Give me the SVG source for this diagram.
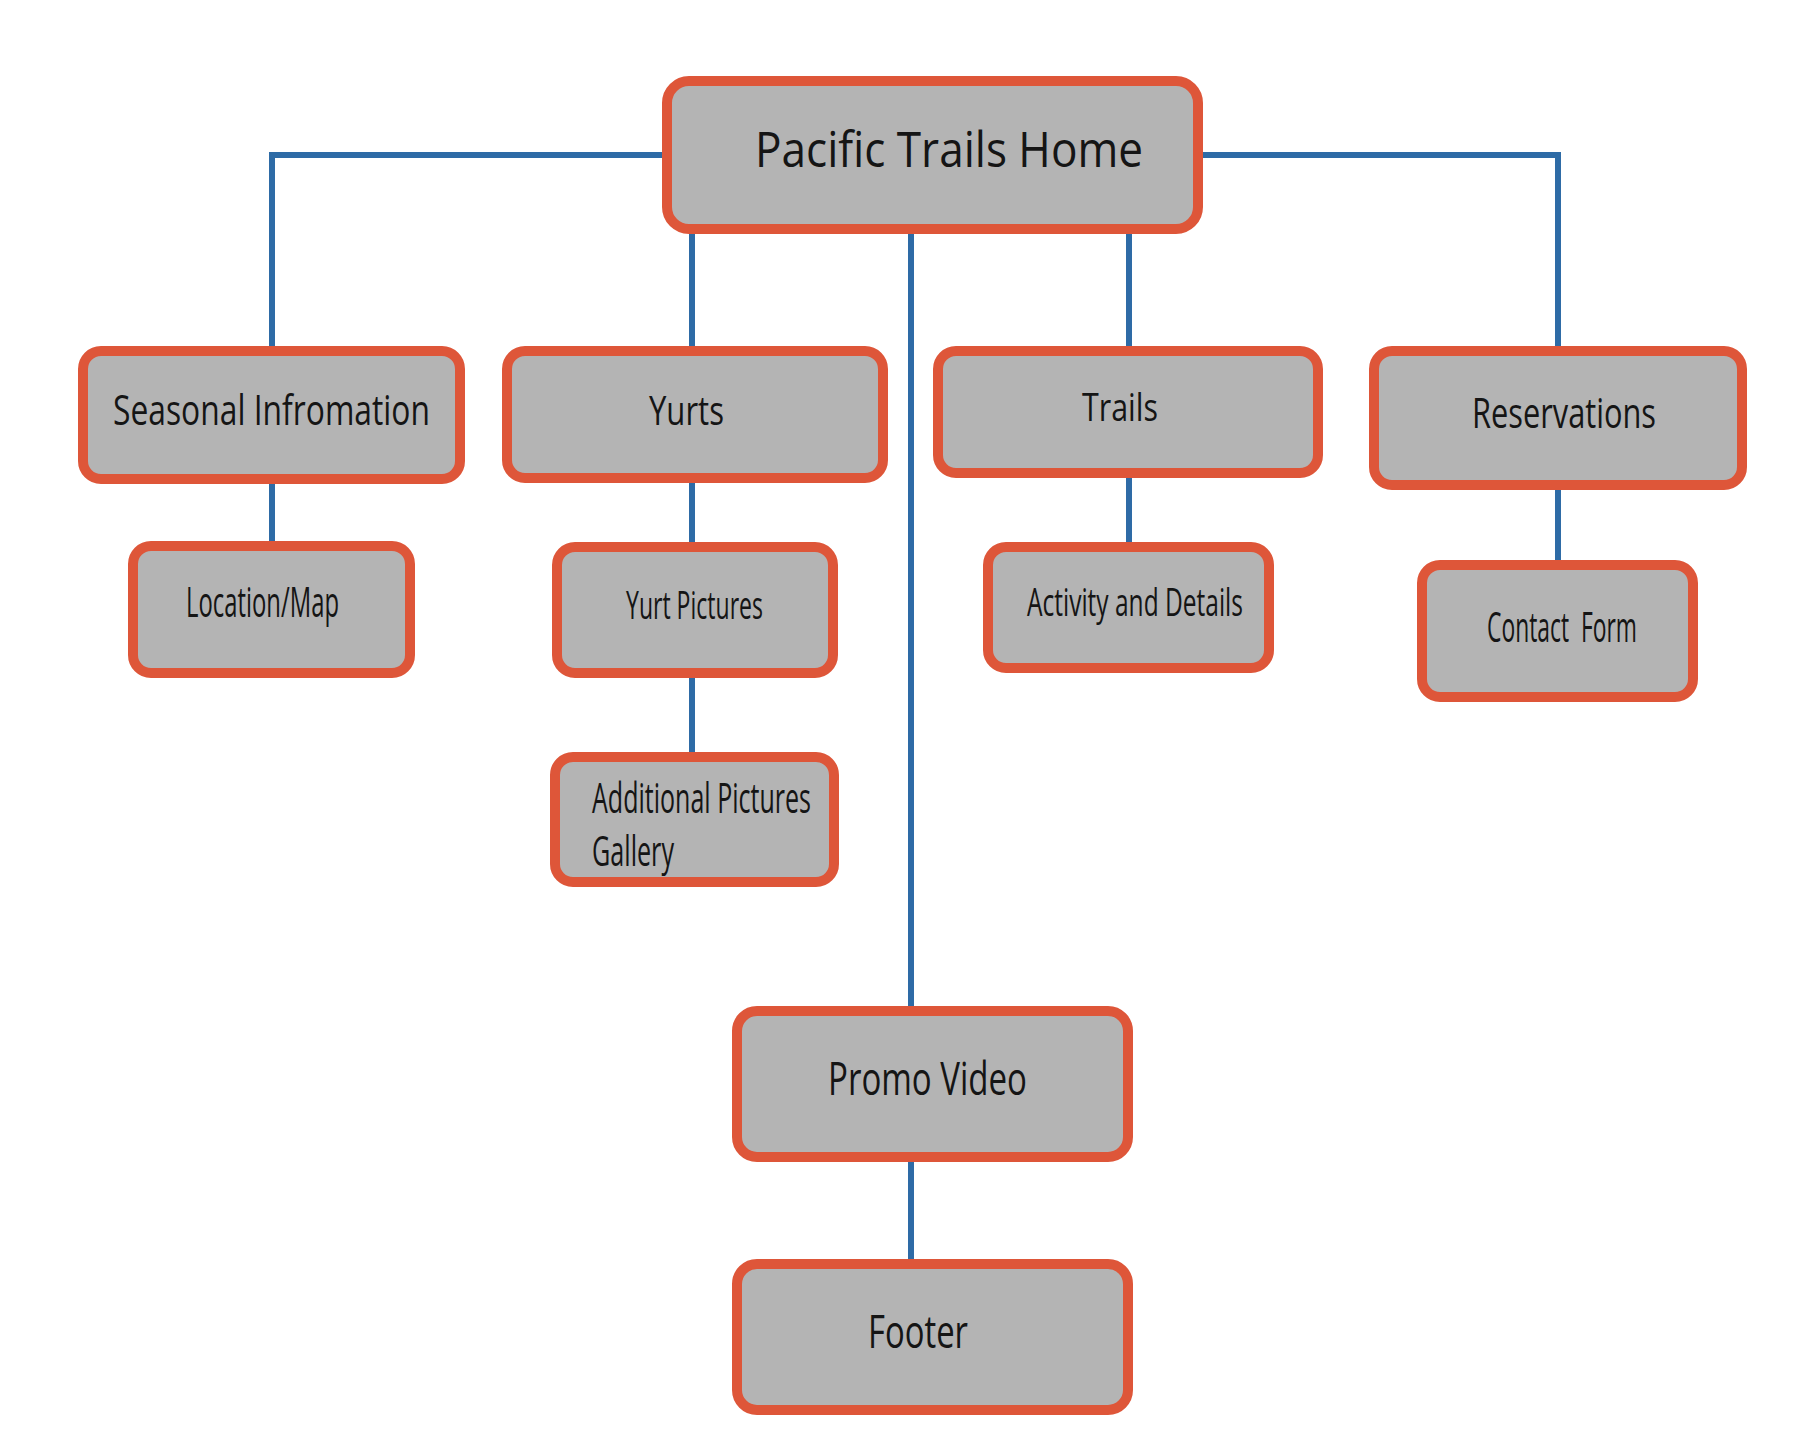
<svg xmlns="http://www.w3.org/2000/svg" width="1818" height="1440" viewBox="0 0 1818 1440">
<style>
.box{fill:#b4b4b4;stroke:#de5639;stroke-width:10}
.lbl{font-family:"Open Sans","Noto Sans","Liberation Sans",sans-serif;fill:#151515;font-weight:500}
.con{fill:none;stroke:#2e6ba6;stroke-width:6;stroke-linejoin:miter;stroke-linecap:butt}
</style>
<rect width="1818" height="1440" fill="#ffffff"/>
<g id="connectors">
<path class="con" d="M667,155 H272 V351"/>
<path class="con" d="M1198,155 H1558 V351"/>
<path class="con" d="M692,229 V351"/>
<path class="con" d="M911,229 V1011"/>
<path class="con" d="M1129,229 V351"/>
<path class="con" d="M272,479 V546"/>
<path class="con" d="M692,478 V547"/>
<path class="con" d="M692,673 V757"/>
<path class="con" d="M1129,473 V547"/>
<path class="con" d="M1558,485 V565"/>
<path class="con" d="M911,1157 V1264"/>
</g>
<g id="home">
<rect class="box" x="667" y="81" width="531" height="148" rx="22"/>
<text class="lbl" x="755" y="167" font-size="49" textLength="388" lengthAdjust="spacingAndGlyphs">Pacific Trails Home</text>
</g>
<g id="seasonal">
<rect class="box" x="83" y="351" width="377" height="128" rx="18"/>
<text class="lbl" x="113" y="425" font-size="42" textLength="317" lengthAdjust="spacingAndGlyphs">Seasonal Infromation</text>
</g>
<g id="location">
<rect class="box" x="133" y="546" width="277" height="127" rx="18"/>
<text class="lbl" x="186" y="617" font-size="42" textLength="153" lengthAdjust="spacingAndGlyphs">Location/Map</text>
</g>
<g id="yurts">
<rect class="box" x="507" y="351" width="376" height="127" rx="18"/>
<text class="lbl" x="649" y="425" font-size="41" textLength="75" lengthAdjust="spacingAndGlyphs">Yurts</text>
</g>
<g id="yurt-pictures">
<rect class="box" x="557" y="547" width="276" height="126" rx="18"/>
<text class="lbl" x="626" y="619" font-size="39" textLength="137" lengthAdjust="spacingAndGlyphs">Yurt Pictures</text>
</g>
<g id="additional">
<rect class="box" x="555" y="757" width="279" height="125" rx="18"/>
<text class="lbl" x="592" y="813" font-size="42" textLength="219" lengthAdjust="spacingAndGlyphs">Additional Pictures</text>
<text class="lbl" x="592" y="866" font-size="42" textLength="82" lengthAdjust="spacingAndGlyphs">Gallery</text>
</g>
<g id="trails">
<rect class="box" x="938" y="351" width="380" height="122" rx="18"/>
<text class="lbl" x="1082" y="421" font-size="39" textLength="76" lengthAdjust="spacingAndGlyphs">Trails</text>
</g>
<g id="activity">
<rect class="box" x="988" y="547" width="281" height="121" rx="18"/>
<text class="lbl" x="1027" y="616" font-size="39" textLength="216" lengthAdjust="spacingAndGlyphs">Activity and Details</text>
</g>
<g id="reservations">
<rect class="box" x="1374" y="351" width="368" height="134" rx="18"/>
<text class="lbl" x="1472" y="428" font-size="42" textLength="184" lengthAdjust="spacingAndGlyphs">Reservations</text>
</g>
<g id="contact">
<rect class="box" x="1422" y="565" width="271" height="132" rx="18"/>
<text class="lbl" x="1487" y="642" font-size="42" textLength="150" lengthAdjust="spacingAndGlyphs" xml:space="preserve">Contact  Form</text>
</g>
<g id="promo">
<rect class="box" x="737" y="1011" width="391" height="146" rx="20"/>
<text class="lbl" x="828" y="1095" font-size="46" textLength="199" lengthAdjust="spacingAndGlyphs">Promo Video</text>
</g>
<g id="footer">
<rect class="box" x="737" y="1264" width="391" height="146" rx="20"/>
<text class="lbl" x="868" y="1348" font-size="46" textLength="100" lengthAdjust="spacingAndGlyphs">Footer</text>
</g>
</svg>
